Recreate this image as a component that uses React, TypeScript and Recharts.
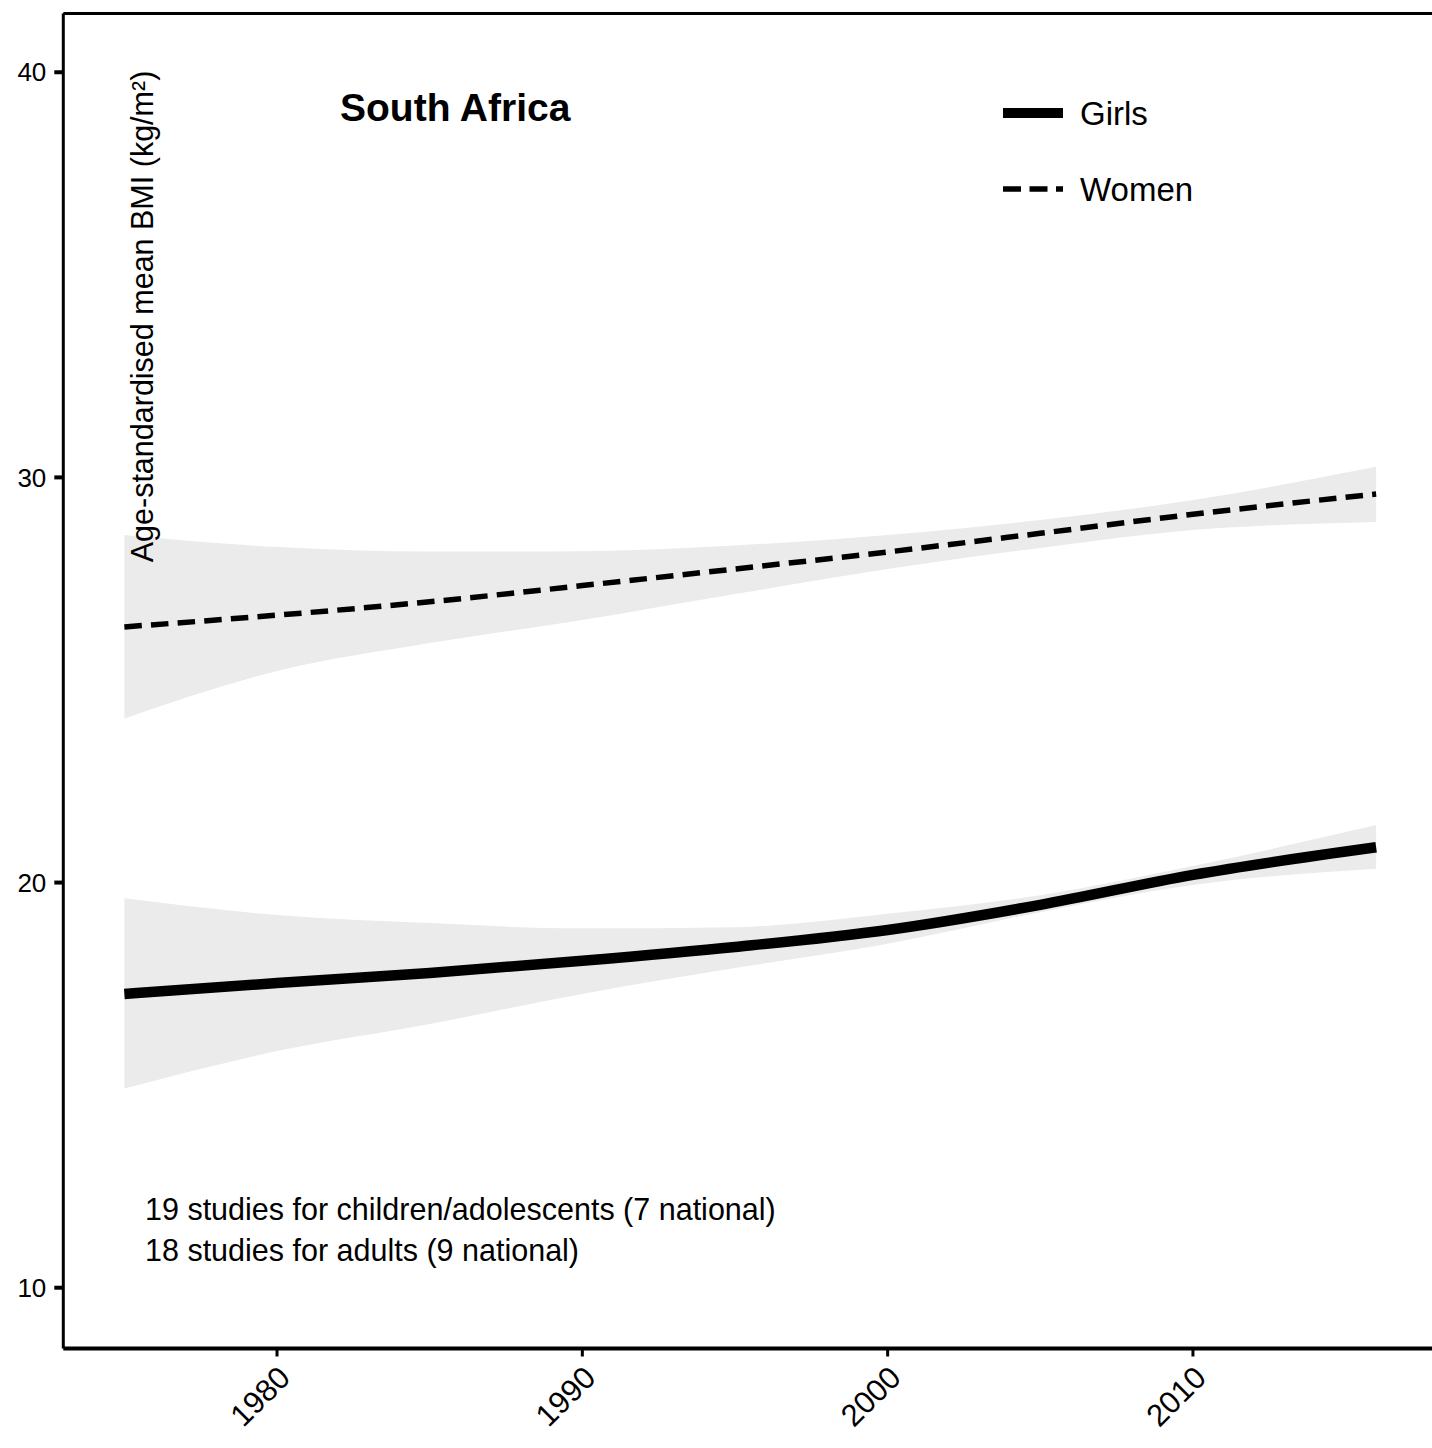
import {
  Area,
  ComposedChart,
  Line,
  ReferenceLine,
  XAxis,
  YAxis,
} from "recharts";

const FONT = '"Liberation Sans", Arial, Helvetica, sans-serif';

// 5-year steps plus the last survey year
const years = [1975, 1980, 1985, 1990, 1995, 2000, 2005, 2010, 2016];
const girlsMean = [17.25, 17.52, 17.77, 18.07, 18.41, 18.83, 19.45, 20.19, 20.87];
const girlsLower = [14.92, 15.84, 16.51, 17.25, 17.89, 18.49, 19.27, 19.94, 20.34];
const girlsUpper = [19.61, 19.2, 19.0, 18.87, 18.9, 19.23, 19.69, 20.41, 21.42];
const womenMean = [26.31, 26.6, 26.93, 27.33, 27.74, 28.16, 28.62, 29.09, 29.59];
const womenLower = [24.05, 25.22, 25.91, 26.48, 27.12, 27.74, 28.26, 28.7, 28.9];
const womenUpper = [28.58, 28.28, 28.17, 28.18, 28.32, 28.58, 28.95, 29.44, 30.26];

const xTicks = [1980, 1990, 2000, 2010];
const yTicks = [10, 20, 30, 40];

const country = "South Africa";
const yLabel = "Age-standardised mean BMI (kg/m²)";
const notes = [
  "19 studies for children/adolescents (7 national)",
  "18 studies for adults (9 national)",
];
const legendItems = [
  { label: "Girls", width: 10, dash: undefined as string | undefined },
  { label: "Women", width: 5.5, dash: "18 8.5" },
];

const data = years.map((year, i) => ({
  year,
  girls: girlsMean[i],
  girlsBand: [girlsLower[i], girlsUpper[i]],
  women: womenMean[i],
  womenBand: [womenLower[i], womenUpper[i]],
}));

function XTick({ x, y, payload }: any) {
  return (
    <g transform={`translate(${x + 15},${y + 21})`}>
      <text
        textAnchor="end"
        transform="rotate(-45)"
        fontSize={31}
        fontFamily={FONT}
        fill="#000"
      >
        {payload.value}
      </text>
    </g>
  );
}

// text layer drawn on top of the plot, like ggplot annotations
function Overlay() {
  return (
    <svg
      width={1432}
      height={1448}
      style={{ position: "absolute", left: 0, top: 0, pointerEvents: "none" }}
    >
      <g fontFamily={FONT} fill="#000">
        <text
          transform="translate(153,316.5) rotate(-90)"
          textAnchor="middle"
          fontSize={30.5}
        >
          {yLabel}
        </text>
        <text x={340} y={121} fontSize={39} fontWeight="bold">
          {country}
        </text>
        {notes.map((n, i) => (
          <text key={n} x={145} y={1220 + i * 41} fontSize={30.5}>
            {n}
          </text>
        ))}
        {legendItems.map((it, i) => (
          <g key={it.label} transform={`translate(1000,${113 + i * 76})`}>
            <line
              x1={3}
              x2={63}
              y1={0}
              y2={0}
              stroke="#000"
              strokeWidth={it.width}
              strokeDasharray={it.dash}
            />
            <text x={80} y={11.5} fontSize={33}>
              {it.label}
            </text>
          </g>
        ))}
      </g>
    </svg>
  );
}

export default function App() {
  return (
    <div
      style={{
        position: "absolute",
        left: 0,
        top: 0,
        width: 1432,
        height: 1448,
        overflow: "hidden",
        background: "#fff",
      }}
    >
      <ComposedChart
        width={1440}
        height={1448}
        data={data}
        margin={{ top: 13.5, right: 2.8, left: 0, bottom: 0 }}
      >
        <XAxis
          dataKey="year"
          type="number"
          domain={[1973, 2018]}
          ticks={xTicks}
          allowDataOverflow
          height={99.5}
          axisLine={{ stroke: "#000", strokeWidth: 4 }}
          tickLine={{ stroke: "#000", strokeWidth: 3 }}
          tickSize={8}
          tick={<XTick />}
        />
        <YAxis
          type="number"
          domain={[8.5, 41.45]}
          ticks={yTicks}
          allowDataOverflow
          width={63.3}
          axisLine={{ stroke: "#000", strokeWidth: 3 }}
          tickLine={{ stroke: "#000", strokeWidth: 4 }}
          tickSize={9}
          tickMargin={8}
          tick={{ fill: "#000", fontSize: 26, fontFamily: FONT }}
        />
        <ReferenceLine y={41.45} stroke="#000" strokeWidth={3} />
        <Area
          dataKey="womenBand"
          type="monotone"
          stroke="none"
          fill="#EBEBEB"
          fillOpacity={1}
          isAnimationActive={false}
        />
        <Area
          dataKey="girlsBand"
          type="monotone"
          stroke="none"
          fill="#EBEBEB"
          fillOpacity={1}
          isAnimationActive={false}
        />
        <Line
          dataKey="women"
          name="Women"
          type="monotone"
          stroke="#000"
          strokeWidth={5.5}
          strokeDasharray="17.5 9.2"
          dot={false}
          isAnimationActive={false}
        />
        <Line
          dataKey="girls"
          name="Girls"
          type="monotone"
          stroke="#000"
          strokeWidth={10.5}
          dot={false}
          isAnimationActive={false}
        />
      </ComposedChart>
      <Overlay />
    </div>
  );
}
